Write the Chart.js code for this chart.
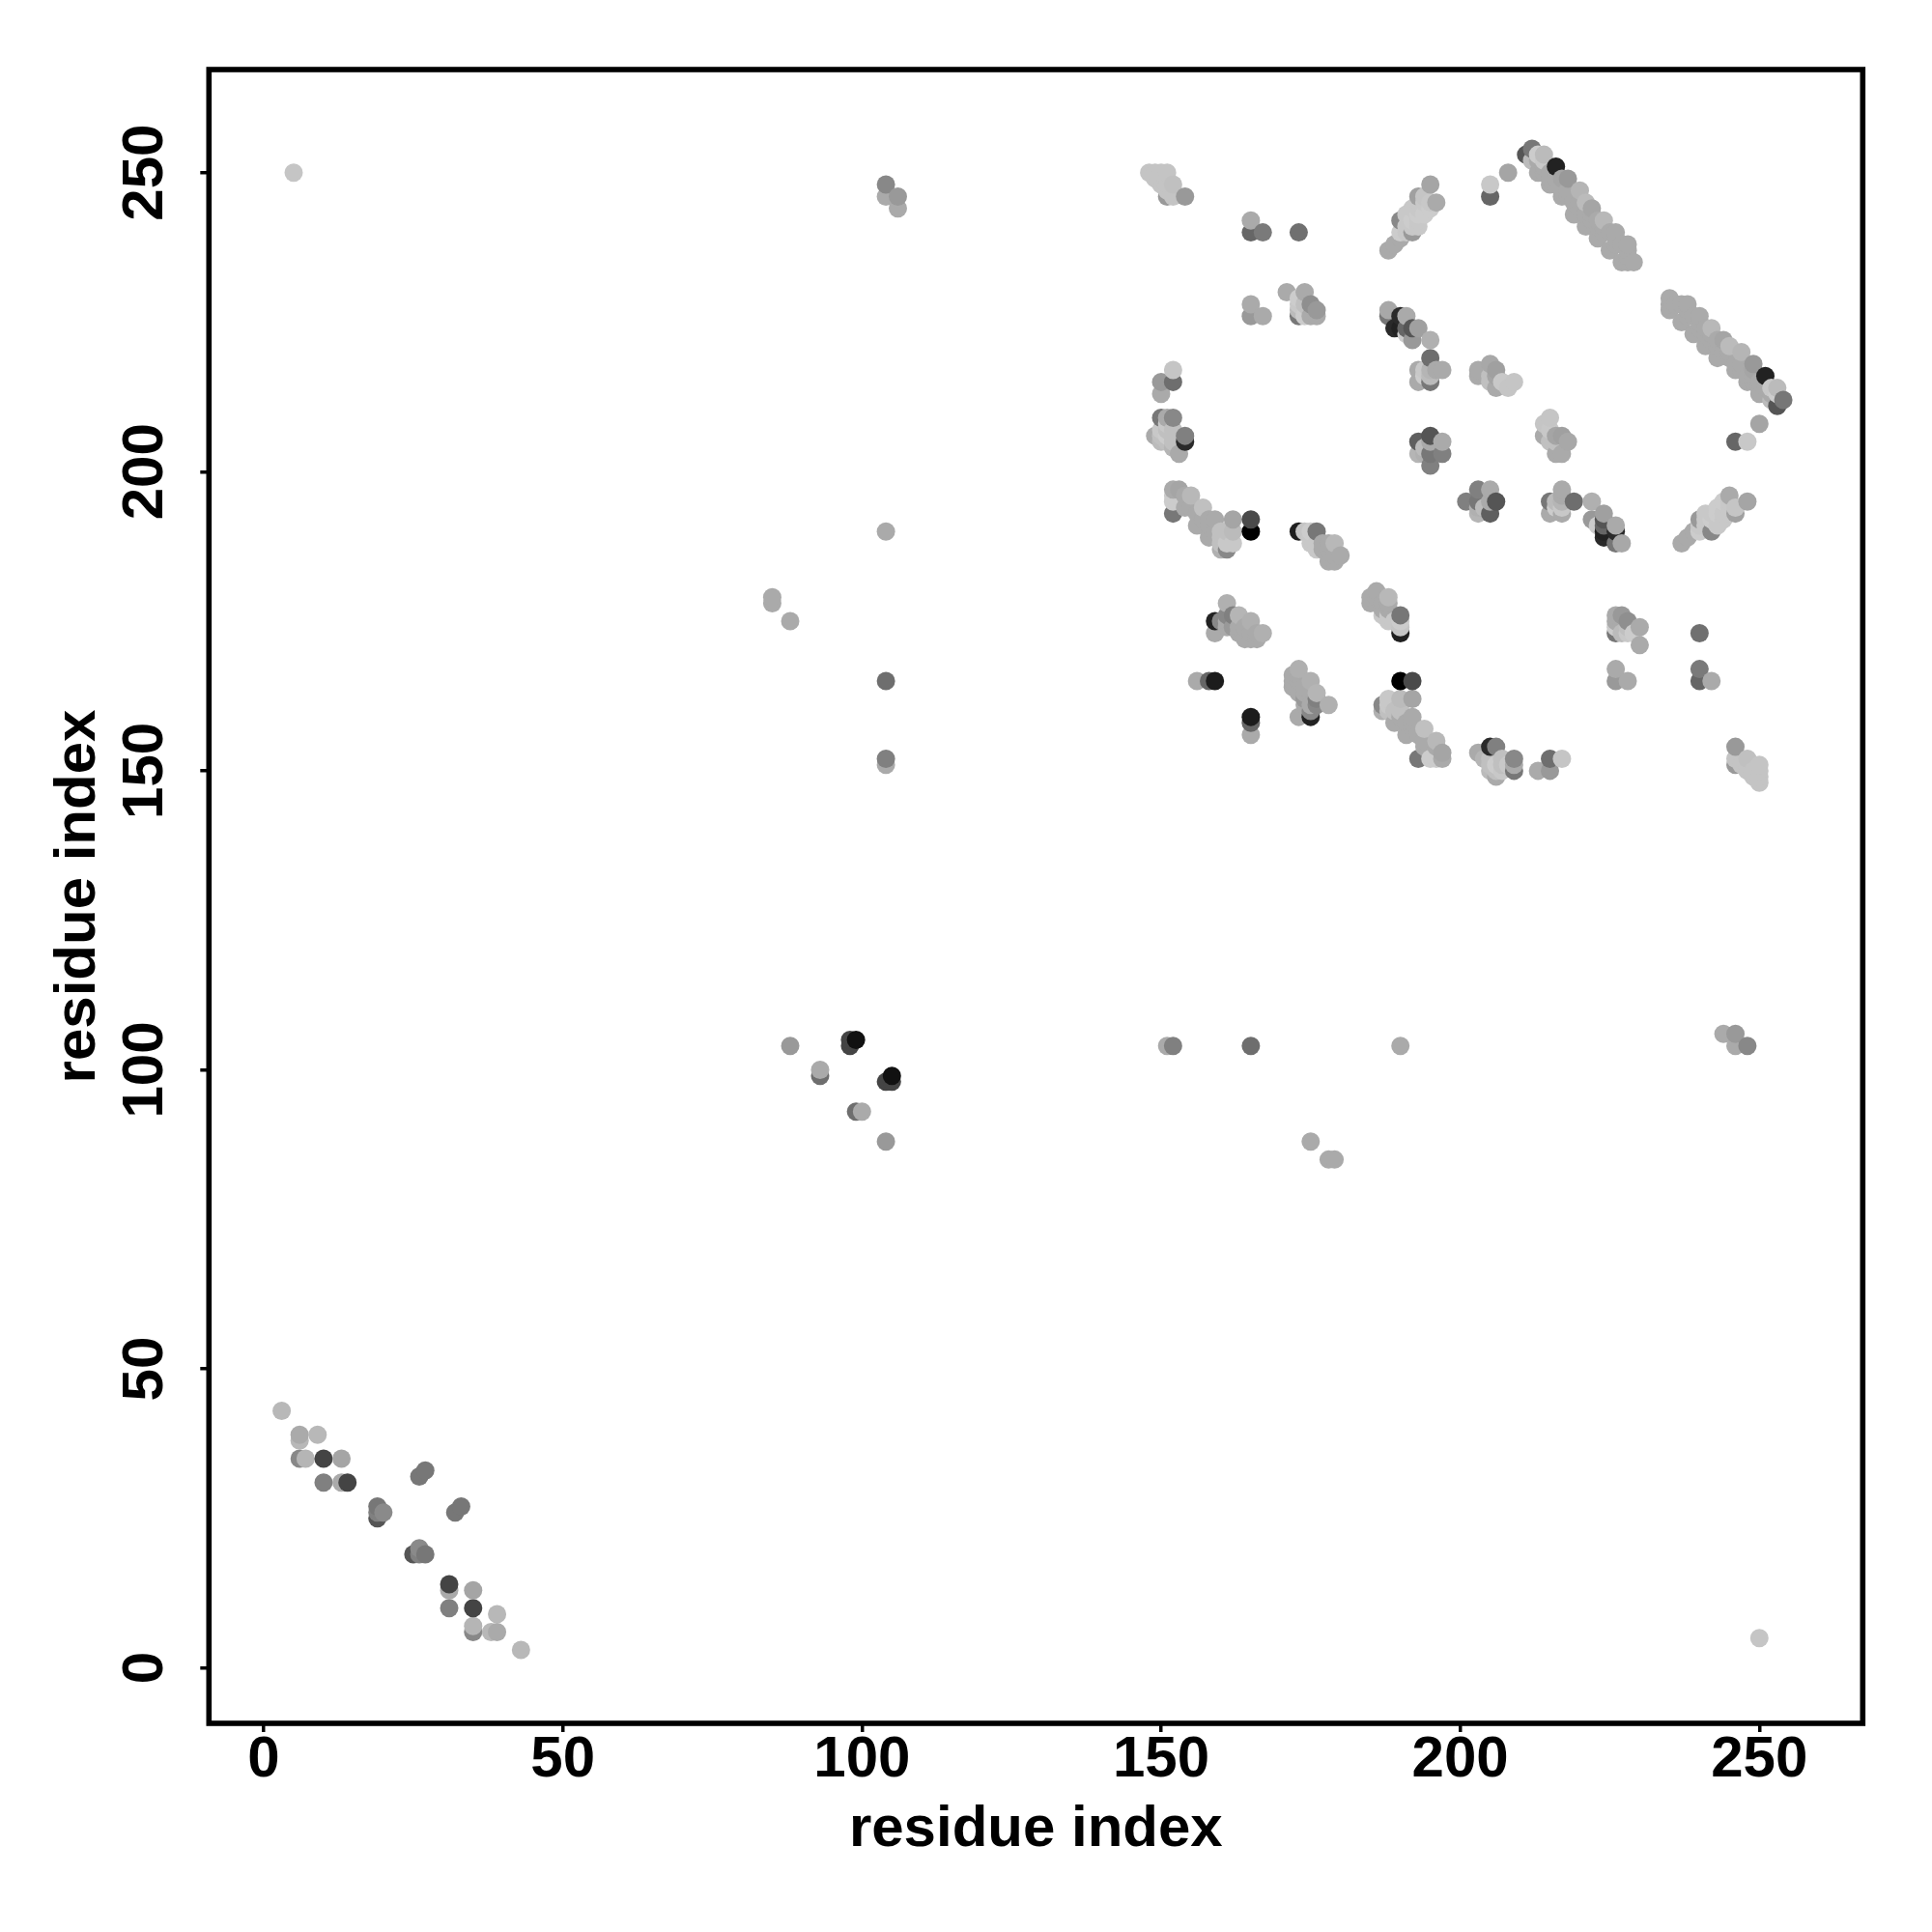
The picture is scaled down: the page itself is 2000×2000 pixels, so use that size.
<!DOCTYPE html>
<html>
<head>
<meta charset="utf-8">
<script src="https://cdn.jsdelivr.net/npm/chart.js@4"></script>
<style>
body { margin: 0; background: #fff; }
canvas { display: block; }
</style>
</head>
<body>
<canvas id="contactMap" width="2000" height="2000"></canvas>
<script>
var tickValues = [0, 50, 100, 150, 200, 250];
var axisLabel = 'residue index';

// contact pairs (i < j), the map is symmetric so each pair shows up twice
var residueI = [
    3,6,6,9,6,7,10,13,10,13,14,
    19,19,19,20,26,27,
    5,
    85,85,88,88,93,93,98,98,99,
    104,104,104,104,104,104,106,106,
    148,149,150,151,149,150,150,151,152,151,151,152,154,
    165,165,167,173,165,165,167,
    171,174,173,173,173,173,175,176,176,175,174,174,
    188,189,190,190,192,190,191,191,191,192,192,193,193,193,193,194,194,194,195,195,195,196,193,193,192,
    188,188,190,191,189,190,191,192,193,192,191,195,
    195,195,193,193,197,195,194,195,196,194,
    152,152,150,150,
    150,152,151,149,150,150,151,151,152,152,154,154,153,151,152,150,151,
    195,197,197,194,195,195,195,193,194,193,
    203,203,205,206,206,206,208,209,207,205,205,
    205,205,208,
    211,212,212,213,214,214,216,
    213,215,217,219,221,223,225,227,228,229,
    214,216,218,220,222,224,226,228,215,217,219,221,223,
    217,218,220,221,222,224,226,228,228,216,218,220,222,224,226,223,225,227,213,214,215,
    152,153,152,152,152,154,155,154,157,156,158,159,162,165,165,158,160,161,162,162,161,160,155,156,157,158,159,160,161,160,
    173,174,175,176,175,176,176,177,179,180,178,179,178,179,177,175,178,
    161,159,159,160,161,161,162,163,162,165,164,164,165,166,167,163,161,163,166,165,
    156,158,159
];
var residueJ = [
    43,39,38,39,35,35,35,35,31,31,31,
    27,26,25,26,32,33,
    250,
    178,179,175,104,99,100,104,105,105,
    190,165,152,151,248,246,246,244,
    250,250,250,250,249,249,248,248,248,247,246,246,246,
    242,240,240,240,228,226,226,
    230,230,226,227,228,229,228,227,226,226,226,228,
    237,238,239,240,240,242,240,241,243,241,242,241,242,243,246,243,245,246,244,245,248,245,244,245,244,
    226,227,226,226,224,224,224,224,224,222,223,222,
    219,215,217,215,217,217,216,216,217,217,
    217,215,215,213,
    209,209,209,206,205,206,206,205,207,205,206,205,203,208,204,207,207,
    201,203,205,203,203,205,206,205,204,203,
    217,216,218,217,216,214,214,215,215,215,216,
    246,248,250,
    253,254,252,253,253,252,251,
    250,248,246,243,241,239,237,235,235,235,
    250,248,246,244,242,240,238,236,249,247,245,243,241,
    249,249,247,245,244,242,240,238,237,249,247,245,243,241,239,242,240,238,252,251,250,
    197,197,193,196,195,196,196,194,194,191,192,192,192,192,190,189,187,187,188,190,190,190,194,193,192,191,190,189,188,188,
    190,190,190,190,188,188,187,188,188,186,185,185,187,186,187,189,188,
    178,175,173,175,175,176,176,176,174,175,174,172,172,172,173,173,174,174,173,173,
    165,165,165
];
var greyLevel = [
    184,170,184,184,136,181,68,165,128,170,68,
    119,128,85,138,119,119,
    197,
    170,170,170,153,110,170,68,68,17,
    170,110,128,170,136,170,153,170,
    196,196,196,196,196,196,196,196,192,196,153,196,153,
    170,102,122,112,170,153,170,
    170,170,119,187,200,204,143,153,170,170,204,192,
    170,170,170,204,153,136,200,200,200,200,204,200,200,204,160,204,200,197,204,200,165,170,200,200,200,
    119,168,42,170,42,34,102,85,160,153,204,176,
    110,119,170,170,170,181,204,187,170,200,
    197,110,153,170,
    119,136,170,170,187,192,204,192,192,192,128,42,170,200,181,200,192,
    128,128,170,176,119,170,85,95,187,181,
    170,170,168,160,165,170,197,197,200,192,192,
    102,200,165,
    85,119,187,204,187,200,34,
    170,170,170,170,170,170,170,170,170,170,
    170,170,170,170,170,170,170,170,170,170,170,170,170,
    165,153,181,187,165,184,170,170,170,170,170,170,170,170,170,170,170,170,170,170,170,
    170,165,119,204,204,170,184,170,192,170,170,170,165,74,0,170,176,136,200,187,192,192,170,170,170,170,170,192,200,192,
    31,197,204,119,200,200,200,170,184,170,170,170,170,170,170,200,170,
    176,34,170,136,170,136,128,181,153,176,170,170,170,170,176,170,170,170,170,170,
    170,102,28
];

var xValues = residueI.concat(residueJ);
var yValues = residueJ.concat(residueI);
var greys = greyLevel.concat(greyLevel);

// later residues are painted on top, same as the original plot order
var order = xValues.map(function(d, i) {return i}).sort(function(a, b) {
    return xValues[a] - xValues[b] || yValues[a] - yValues[b];
});
var points = order.map(function(i) {return {x: xValues[i], y: yValues[i]}});
var pointColors = order.map(function(i) {
    return 'rgb(' + greys[i] + ',' + greys[i] + ',' + greys[i] + ')';
});

var boldFont = { family: '"Liberation Sans"', size: 60, weight: 'bold' };

function useTickValues(axis) {
    axis.ticks = tickValues.map(function(v) {return {value: v}});
}

var frame = {
    id: 'frame',
    afterDatasetsDraw: function(chart) {
        var a = chart.chartArea;
        var ctx = chart.ctx;
        ctx.save();
        ctx.strokeStyle = '#000';
        ctx.lineWidth = 5.6;
        ctx.strokeRect(a.left, a.top, a.right - a.left, a.bottom - a.top);
        ctx.restore();
    }
};

var contactMap = new Chart(document.getElementById('contactMap'), {
    type: 'scatter',
    data: {
        datasets: [
            {
                data: points,
                pointRadius: 9.5,
                pointBorderWidth: 0,
                pointBackgroundColor: pointColors,
                clip: false
            }
        ]
    },
    options: {
        responsive: false,
        animation: false,
        devicePixelRatio: 1,
        layout: {
            padding: { top: 72, right: 71.7, left: 0, bottom: 0 }
        },
        plugins: {
            legend: { display: false },
            tooltip: { enabled: false }
        },
        scales: {
            x: {
                type: 'linear',
                min: -9.16,
                max: 267.28,
                afterBuildTicks: useTickValues,
                afterFit: function(axis) { axis.height = 216; },
                grid: { drawOnChartArea: false, color: '#000', tickLength: 9, lineWidth: 3.5 },
                border: { display: false },
                ticks: {
                    color: '#000',
                    font: boldFont,
                    padding: -7,
                    autoSkip: false,
                    maxRotation: 0
                },
                title: {
                    display: true,
                    text: axisLabel,
                    color: '#000',
                    font: boldFont,
                    padding: { top: 0, bottom: 70 }
                }
            },
            y: {
                type: 'linear',
                min: -9.26,
                max: 267.23,
                afterBuildTicks: useTickValues,
                afterFit: function(axis) { axis.width = 216.3; },
                grid: { drawOnChartArea: false, color: '#000', tickLength: 9, lineWidth: 3.5 },
                border: { display: false },
                ticks: {
                    color: '#000',
                    font: boldFont,
                    padding: 6,
                    autoSkip: false,
                    minRotation: 90,
                    maxRotation: 90,
                    crossAlign: 'center'
                },
                title: {
                    display: true,
                    text: axisLabel,
                    color: '#000',
                    font: boldFont,
                    padding: { top: 45, bottom: 0 }
                }
            }
        }
    },
    plugins: [frame]
});
</script>
</body>
</html>
